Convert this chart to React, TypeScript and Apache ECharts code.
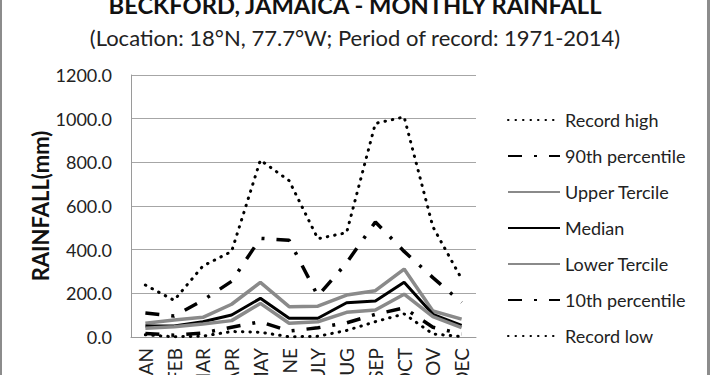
import React, { useEffect, useRef } from 'react';
import * as echarts from 'echarts';

const months = ['JAN', 'FEB', 'MAR', 'APR', 'MAY', 'JUNE', 'JULY', 'AUG', 'SEP', 'OCT', 'NOV', 'DEC'];
const recordHigh = [238, 168, 325, 392, 810, 716, 450, 478, 978, 1008, 505, 266];
const p90 = [110, 96, 168, 255, 452, 443, 188, 340, 527, 392, 272, 158];
const upperTercile = [63, 78, 90, 150, 250, 139, 141, 192, 212, 311, 119, 82];
const median = [50, 50, 70, 101, 177, 86, 86, 157, 165, 251, 104, 53];
const lowerTercile = [40, 47, 60, 75, 154, 63, 70, 113, 124, 196, 93, 43];
const p10 = [16, 8, 18, 45, 70, 27, 42, 65, 104, 133, 45, 14];
const recordLow = [10, 1, 4, 25, 22, 1, 3, 30, 70, 106, 14, 2];
const yTicks = [0, 200, 400, 600, 800, 1000, 1200];

const FONT = 'Lato, "Liberation Sans", sans-serif';
const GRAY = '#8a8a8a';
const DOTTED = [0.5, 7];
const DASHDOT = [14, 12, 3, 12];

export default function App() {
  const ref = useRef<HTMLDivElement>(null);
  useEffect(() => {
    document.body.style.margin = '0';
    const chart = echarts.init(ref.current!, null, { renderer: 'svg' });
    const mk = (name: string, data: number[], color: string, width: number, type: any, cap: any = 'butt') => ({
      name,
      type: 'line',
      data,
      symbol: 'none',
      showSymbol: false,
      lineStyle: { color, width, type, cap },
      itemStyle: { color },
    });
    chart.setOption({
      animation: false,
      textStyle: { fontFamily: FONT },
      grid: { left: 131, right: 234, top: 75, bottom: 38, containLabel: false, outerBoundsMode: 'none' },
      xAxis: {
        type: 'category',
        data: months,
        boundaryGap: true,
        axisLine: { show: true, lineStyle: { color: '#9a9a9a', width: 1 } },
        axisTick: { show: false },
        axisLabel: { rotate: 90, interval: 0, margin: 11, fontSize: 19, color: '#222', fontFamily: FONT },
        splitLine: { show: false },
      },
      yAxis: {
        type: 'value',
        min: yTicks[0],
        max: yTicks[yTicks.length - 1],
        interval: 200,
        axisLine: { show: true, lineStyle: { color: '#9a9a9a', width: 1 } },
        axisTick: { show: false },
        axisLabel: {
          margin: 19,
          fontSize: 18,
          color: '#222',
          fontFamily: FONT,
          formatter: (v: number) => v.toFixed(1),
        },
        splitLine: { show: true, lineStyle: { color: '#a6a6a6', width: 1 } },
        name: 'RAINFALL(mm)',
        nameLocation: 'middle',
        nameGap: 80,
        nameTextStyle: { fontSize: 22, fontWeight: 'bold', color: '#111', fontFamily: FONT },
      },
      legend: {
        orient: 'vertical',
        left: 502,
        top: 106,
        itemWidth: 52,
        itemHeight: 14,
        itemGap: 18,
        itemStyle: { opacity: 0 },
        textStyle: { fontSize: 18, color: '#222', fontFamily: FONT },
        data: ['Record high', '90th percentile', 'Upper Tercile', 'Median', 'Lower Tercile', '10th percentile', 'Record low'],
      },
      graphic: [
        { type: 'rect', shape: { x: 0, y: 0, width: 2, height: 375 }, style: { fill: '#8c8c8c' } },
        { type: 'rect', shape: { x: 707, y: 0, width: 3, height: 375 }, style: { fill: '#8c8c8c' } },
        {
          type: 'text',
          x: 355,
          y: 5,
          style: {
            text: 'BECKFORD, JAMAICA - MONTHLY RAINFALL',
            fontSize: 23.7,
            fontWeight: 'bold',
            fontFamily: FONT,
            fill: '#111',
            align: 'center',
            verticalAlign: 'middle',
          },
        },
        {
          type: 'text',
          x: 355,
          y: 37,
          style: {
            text: '(Location: 18°N, 77.7°W; Period of record: 1971-2014)',
            fontSize: 22,
            fontFamily: FONT,
            fill: '#222',
            align: 'center',
            verticalAlign: 'middle',
          },
        },
      ],
      series: [
        mk('Record high', recordHigh, '#000', 3, DOTTED, 'round'),
        mk('90th percentile', p90, '#000', 3.5, DASHDOT),
        mk('Upper Tercile', upperTercile, GRAY, 3.5, 'solid'),
        mk('Median', median, '#000', 3, 'solid'),
        mk('Lower Tercile', lowerTercile, GRAY, 3.5, 'solid'),
        mk('10th percentile', p10, '#000', 3.5, DASHDOT),
        mk('Record low', recordLow, '#000', 3, DOTTED, 'round'),
      ],
    });
    return () => chart.dispose();
  }, []);
  return <div ref={ref} style={{ width: 710, height: 375 }} />;
}
